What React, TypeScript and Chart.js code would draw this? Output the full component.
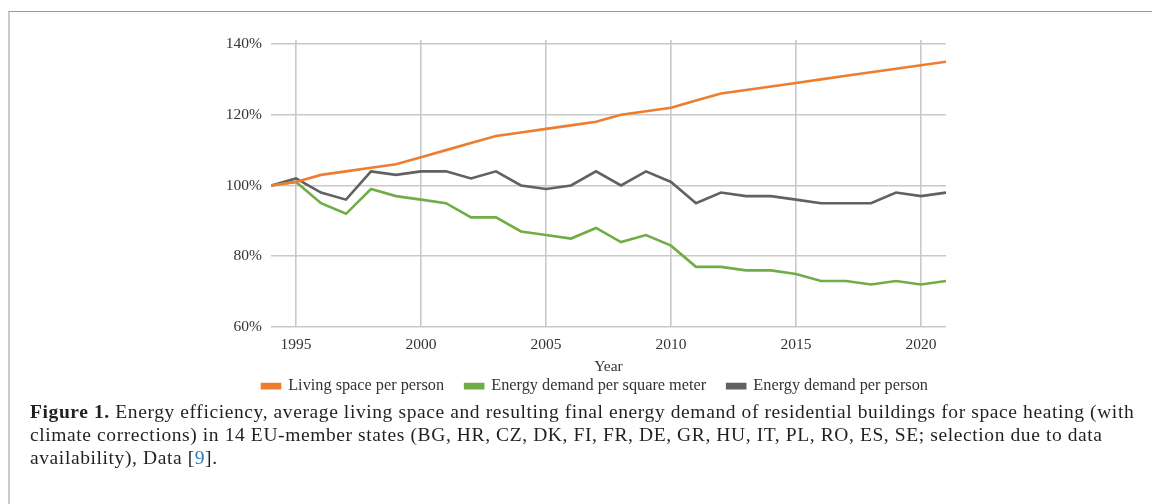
import React, { useEffect, useRef } from "react";
import { Chart, registerables } from "chart.js";

Chart.register(...registerables);

const years = [1994, 1995, 1996, 1997, 1998, 1999, 2000, 2001, 2002, 2003, 2004, 2005, 2006, 2007, 2008, 2009, 2010, 2011, 2012, 2013, 2014, 2015, 2016, 2017, 2018, 2019, 2020, 2021];
const livingSpacePerPerson = [100, 101, 103, 104, 105, 106, 108, 110, 112, 114, 115, 116, 117, 118, 120, 121, 122, 124, 126, 127, 128, 129, 130, 131, 132, 133, 134, 135];
const energyPerSquareMeter = [100, 101, 95, 92, 99, 97, 96, 95, 91, 91, 87, 86, 85, 88, 84, 86, 83, 77, 77, 76, 76, 75, 73, 73, 72, 73, 72, 73];
const energyPerPerson = [100, 102, 98, 96, 104, 103, 104, 104, 102, 104, 100, 99, 100, 104, 100, 104, 101, 95, 98, 97, 97, 96, 95, 95, 95, 98, 97, 98];
const xTicks = [1995, 2000, 2005, 2010, 2015, 2020];
const yTicks = [60, 80, 100, 120, 140];
const seriesNames = ["Living space per person", "Energy demand per square meter", "Energy demand per person"];
const seriesColors = ["#ED7D31", "#70AD47", "#616161"];
const xTitle = "Year";

const FONT = "'Liberation Serif', 'Times New Roman', serif";
const TEXT = "#333333";
const GRID = "#c9c9c9";

const gridStubs = {
  id: "gridStubs",
  afterDatasetsDraw(chart: any) {
    const { ctx, chartArea, scales } = chart;
    ctx.save();
    ctx.strokeStyle = GRID;
    ctx.lineWidth = 1.6;
    xTicks.forEach((v) => {
      const px = scales.x.getPixelForValue(v);
      ctx.beginPath();
      ctx.moveTo(px, chartArea.top - 4);
      ctx.lineTo(px, chartArea.top);
      ctx.stroke();
    });
    ctx.restore();
  },
};

export default function App() {
  const ref = useRef<HTMLCanvasElement | null>(null);

  useEffect(() => {
    document.body.style.overflow = "hidden";
    const canvas = ref.current;
    if (!canvas) return;
    const seriesValues = [livingSpacePerPerson, energyPerSquareMeter, energyPerPerson];
    const chart = new Chart(canvas, {
      type: "line",
      data: {
        datasets: seriesNames.map((name, i) => ({
          label: name,
          data: years.map((y, j) => ({ x: y, y: seriesValues[i][j] })),
          borderColor: seriesColors[i],
          backgroundColor: seriesColors[i],
          borderWidth: 2.6,
          pointRadius: 0,
          tension: 0,
          yAxisID: "y",
        })),
      },
      plugins: [gridStubs],
      options: {
        animation: false,
        responsive: false,
        maintainAspectRatio: false,
        layout: { padding: { top: 24, left: 0, right: 0, bottom: 1.7 } },
        plugins: {
          tooltip: { enabled: false },
          legend: {
            position: "bottom",
            labels: {
              boxWidth: 18,
              boxHeight: 4,
              padding: 21,
              color: TEXT,
              font: { family: FONT, size: 16.3 },
            },
          },
        },
        scales: {
          x: {
            type: "linear",
            min: years[0],
            max: years[years.length - 1],
            afterBuildTicks: (scale: any) => {
              scale.ticks = xTicks.map((v) => ({ value: v }));
            },
            afterFit: (scale: any) => {
              scale.height = 30;
            },
            ticks: {
              padding: 9,
              color: TEXT,
              font: { family: FONT, size: 15.5 },
              maxRotation: 0,
              autoSkip: false,
              callback: (v: any) => String(v),
            },
            grid: { color: GRID, lineWidth: 1.6, drawTicks: false },
            border: { display: false },
            title: {
              display: true,
              text: xTitle,
              color: TEXT,
              font: { family: FONT, size: 15.5 },
              padding: { top: 0, bottom: -19 },
            },
          },
          y: {
            position: "left",
            min: 60,
            max: 140,
            afterBuildTicks: (scale: any) => {
              scale.ticks = yTicks.map((v) => ({ value: v }));
            },
            afterFit: (scale: any) => {
              scale.width = 68;
            },
            ticks: {
              padding: 9,
              color: TEXT,
              font: { family: FONT, size: 15.5 },
              callback: (v: any) => v + "%",
            },
            grid: { color: GRID, lineWidth: 1.6, drawTicks: false },
            border: { display: false },
          },
          y2: {
            position: "right",
            min: 60,
            max: 140,
            afterFit: (scale: any) => {
              scale.width = 41;
            },
            ticks: { display: false },
            grid: { display: false, drawTicks: false },
            border: { display: false },
          },
        },
      },
    });
    return () => chart.destroy();
  }, []);

  return (
    <div style={{ position: "relative", width: 1137, height: 488 }}>
      <div
        style={{
          position: "fixed",
          left: 8,
          top: 11,
          width: 1142,
          height: 520,
          borderTop: "1.5px solid #9a9a9a",
          borderLeft: "2.5px solid #cbcbcb",
        }}
      />
      <canvas
        ref={ref}
        width={784}
        height={386}
        style={{ position: "absolute", left: 195, top: 12, width: 784, height: 386 }}
      />
      <div
        style={{
          position: "absolute",
          left: 22,
          top: 392,
          fontFamily: FONT,
          fontSize: 19.5,
          letterSpacing: "0.6px",
          lineHeight: "23px",
          color: "#231f20",
          whiteSpace: "nowrap",
        }}
      >
        <b>Figure 1.</b> Energy efficiency, average living space and resulting final energy demand of residential buildings for space heating (with
        <br />
        climate corrections) in 14 EU-member states (BG, HR, CZ, DK, FI, FR, DE, GR, HU, IT, PL, RO, ES, SE; selection due to data
        <br />
        availability), Data [<span style={{ color: "#2b7bb9" }}>9</span>].
      </div>
    </div>
  );
}
